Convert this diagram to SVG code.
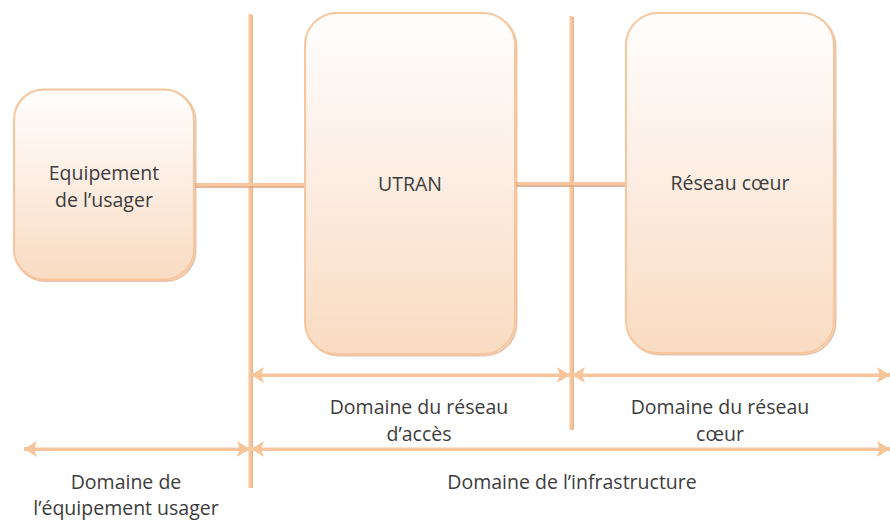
<svg xmlns="http://www.w3.org/2000/svg" width="890" height="520" viewBox="0 0 890 520">
  <defs>
    <linearGradient id="boxFill" x1="0" y1="0" x2="0" y2="1">
      <stop offset="0" stop-color="#fffefd"/>
      <stop offset="0.45" stop-color="#fdefe5"/>
      <stop offset="1" stop-color="#f9dbc1"/>
    </linearGradient>
    <marker id="head" viewBox="0 0 13 16" refX="13" refY="8" markerWidth="13" markerHeight="16" markerUnits="userSpaceOnUse" orient="auto-start-reverse">
      <path d="M0,0 L13,8 L0,16 L3,8 Z" fill="#f8c49a"/>
    </marker>
    <style>
      .box { fill: url(#boxFill); stroke: #f8c59c; stroke-width: 2; }
      .boxShadow { fill: none; stroke: #deac87; stroke-width: 2; opacity: 0.7; }
      .lbl { font-family: "Open Sans", "Noto Sans", sans-serif; font-size: 19.5px; fill: #3c3c3c; text-anchor: middle; }
      .ln { stroke: #f8c59c; stroke-width: 3; fill: none; }
      .lnShadow { stroke: #dba47c; stroke-width: 2; fill: none; opacity: 0.8; }
      .arr { stroke: #f8c59c; stroke-width: 4; fill: none; }
      .arrHi { stroke: #fde3cd; stroke-width: 1; fill: none; }
    </style>
  </defs>

  <!-- connectors: boundaries, links and domain spans -->
  <g id="connectors">
    <!-- vertical boundaries -->
    <line class="lnShadow" x1="252" y1="15" x2="252" y2="488"/>
    <line class="ln" x1="250" y1="14" x2="250" y2="488"/>
    <line class="lnShadow" x1="573" y1="17" x2="573" y2="430"/>
    <line class="ln" x1="571" y1="16" x2="571" y2="430"/>

    <!-- links between blocks -->
    <line class="lnShadow" x1="194" y1="187" x2="307" y2="187"/>
    <line class="ln" x1="194" y1="184.5" x2="307" y2="184.5"/>
    <line class="lnShadow" x1="515" y1="186" x2="627" y2="186"/>
    <line class="ln" x1="515" y1="183.5" x2="627" y2="183.5"/>

    <!-- domain spans -->
    <line class="arr" x1="251" y1="375" x2="570" y2="375" marker-start="url(#head)" marker-end="url(#head)"/>
    <line class="arrHi" x1="262" y1="373.5" x2="560" y2="373.5"/>
    <line class="arr" x1="572" y1="375" x2="890" y2="375" marker-start="url(#head)" marker-end="url(#head)"/>
    <line class="arrHi" x1="583" y1="373.5" x2="879" y2="373.5"/>
    <line class="arr" x1="24" y1="449" x2="250" y2="449" marker-start="url(#head)" marker-end="url(#head)"/>
    <line class="arrHi" x1="35" y1="447.5" x2="239" y2="447.5"/>
    <line class="arr" x1="251" y1="449" x2="890" y2="449" marker-start="url(#head)" marker-end="url(#head)"/>
    <line class="arrHi" x1="262" y1="447.5" x2="879" y2="447.5"/>
  </g>

  <g id="equipement">
    <rect class="boxShadow" x="15.5" y="91" width="180" height="190" rx="30"/>
    <rect class="box" x="14" y="89.5" width="180" height="190" rx="30"/>
    <text class="lbl" x="104" y="180">Equipement</text>
    <text class="lbl" x="104" y="207">de l’usager</text>
  </g>

  <g id="utran">
    <rect class="boxShadow" x="306.5" y="14.5" width="210" height="341" rx="32"/>
    <rect class="box" x="305" y="13" width="210" height="341" rx="32"/>
    <text class="lbl" x="410" y="191">UTRAN</text>
  </g>

  <g id="reseau-coeur">
    <rect class="boxShadow" x="627.5" y="14.5" width="208" height="340" rx="32"/>
    <rect class="box" x="626" y="13" width="208" height="340" rx="32"/>
    <text class="lbl" x="730" y="190">Réseau cœur</text>
  </g>

  <g id="labels">
    <text class="lbl" x="419" y="414">Domaine du réseau</text>
    <text class="lbl" x="419" y="441">d’accès</text>
    <text class="lbl" x="720" y="414">Domaine du réseau</text>
    <text class="lbl" x="720" y="441">cœur</text>
    <text class="lbl" x="126" y="489">Domaine de</text>
    <text class="lbl" x="126" y="515">l’équipement usager</text>
    <text class="lbl" x="572" y="489">Domaine de l’infrastructure</text>
  </g>
</svg>
